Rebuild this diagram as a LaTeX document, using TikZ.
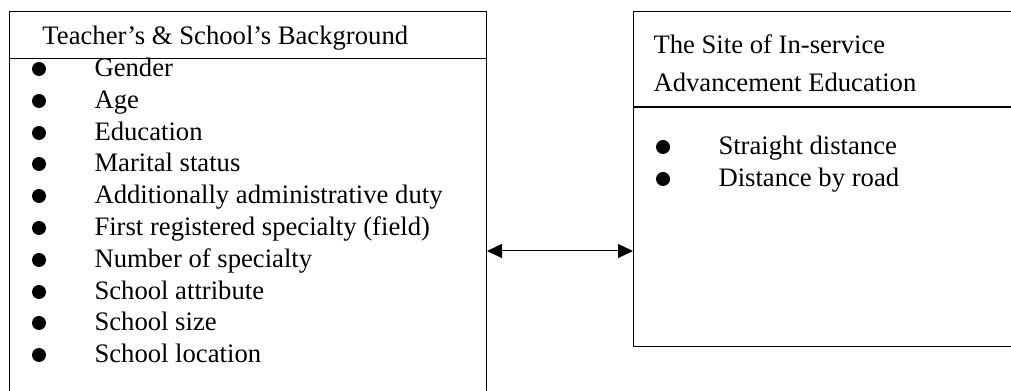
\documentclass[tikz,border=0pt]{standalone}
\usepackage{fontspec}
\setmainfont{Liberation Serif}
\usetikzlibrary{arrows.meta}

\tikzset{every picture/.style={line width=0.75pt}}
\tikzset{
  itemtext/.style={anchor=base west, inner sep=0pt, font=\fontsize{20}{24}\selectfont},
  dot/.style={circle, fill=black, inner sep=0pt, minimum size=10.5pt},
  panel/.style={draw, anchor=north west, inner sep=0pt}
}

\begin{document}
\begin{tikzpicture}[x=0.75pt,y=0.75pt,yscale=-1,xscale=1]
\useasboundingbox (0,0) rectangle (1011,391);

%Shape: Rectangle [left panel]
\node (bgbox) [panel, minimum width=357.75pt, minimum height=288pt] at (9,11) {};
%Straight Lines [left header rule]
\draw (bgbox.west |- 0,59) -- (bgbox.east |- 0,59) ;
%Shape: Rectangle [right panel]
\node (sitebox) [panel, line width=1pt, minimum width=286.5pt, minimum height=251.25pt] at (633,11) {};
%Straight Lines [right header rule]
\draw [line width=1pt] (sitebox.west |- 0,107) -- (sitebox.east |- 0,107) ;

%Straight Lines [link]
\draw [{Triangle[length=11.25pt,width=10.5pt]}-{Triangle[length=11.25pt,width=10.5pt]}] (bgbox.east |- 0,251) -- (sitebox.west |- 0,251) ;

% Text Node
\draw (42,45) node (bgtitle) [itemtext] {Teacher’s \& School’s Background};
% Text Node
\draw (653,54) node (sitetitlea) [itemtext] {The Site of In-service};
% Text Node
\draw (653,92) node (sitetitleb) [itemtext] {Advancement Education};

% Bullets, left panel
\draw (39,69) node (dota) [dot] {};
\draw (39,101) node (dotb) [dot] {};
\draw (39,133) node (dotc) [dot] {};
\draw (39,164) node (dotd) [dot] {};
\draw (39,196) node (dote) [dot] {};
\draw (39,228) node (dotf) [dot] {};
\draw (39,260) node (dotg) [dot] {};
\draw (39,292) node (doth) [dot] {};
\draw (39,323) node (doti) [dot] {};
\draw (39,355) node (dotj) [dot] {};

% Text Node
\draw (94,77) node (gender) [itemtext] {Gender};
% Text Node
\draw (94,109) node (age) [itemtext] {Age};
% Text Node
\draw (94,141) node (edu) [itemtext] {Education};
% Text Node
\draw (94,172) node (marital) [itemtext] {Marital status};
% Text Node
\draw (94,204) node (duty) [itemtext] {Additionally administrative duty};
% Text Node
\draw (94,236) node (firstspec) [itemtext] {First registered specialty (field)};
% Text Node
\draw (94,268) node (numspec) [itemtext] {Number of specialty};
% Text Node
\draw (94,300) node (attrib) [itemtext] {School attribute};
% Text Node
\draw (94,331) node (size) [itemtext] {School size};
% Text Node
\draw (94,363) node (location) [itemtext] {School location};

% Bullets, right panel
\draw (663,147) node (dotk) [dot] {};
\draw (663,179) node (dotl) [dot] {};

% Text Node
\draw (718,155) node (straight) [itemtext] {Straight distance};
% Text Node
\draw (718,187) node (road) [itemtext] {Distance by road};

\end{tikzpicture}
\end{document}
